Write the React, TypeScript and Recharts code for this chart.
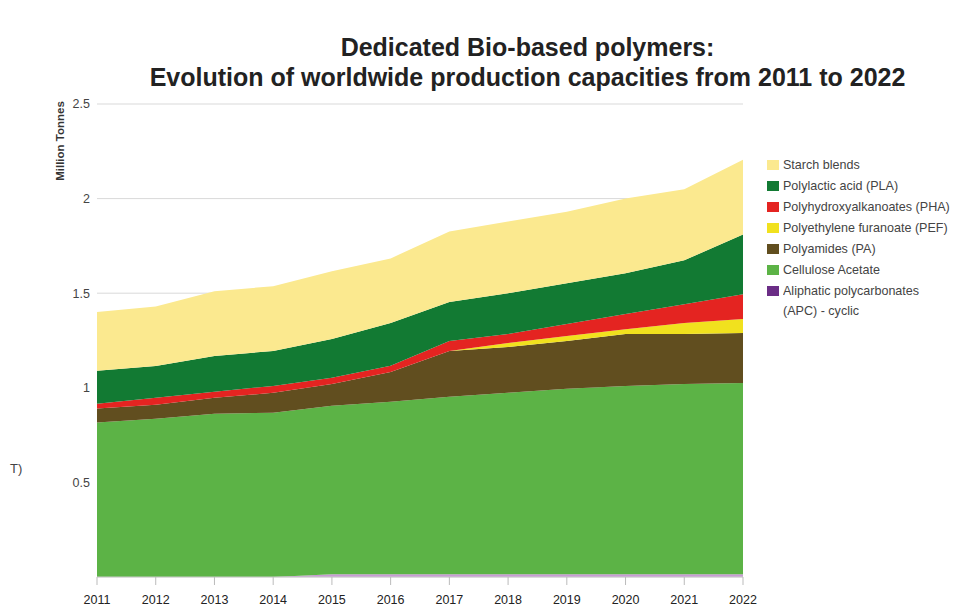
import React from 'react';
import { AreaChart, Area, XAxis, YAxis, CartesianGrid } from 'recharts';

const years = ['2011', '2012', '2013', '2014', '2015', '2016', '2017', '2018', '2019', '2020', '2021', '2022'];

// million tonnes per polymer (stacked bottom to top)
const apc = [0, 0, 0, 0, 0.015, 0.015, 0.015, 0.015, 0.015, 0.015, 0.015, 0.015];
const cellulose = [0.816, 0.837, 0.863, 0.868, 0.89, 0.911, 0.938, 0.959, 0.98, 0.995, 1.005, 1.011];
const pa = [0.074, 0.073, 0.084, 0.106, 0.115, 0.158, 0.242, 0.242, 0.252, 0.274, 0.264, 0.264];
const pef = [0, 0, 0, 0, 0, 0, 0, 0.021, 0.027, 0.026, 0.058, 0.073];
const pha = [0.026, 0.037, 0.032, 0.036, 0.033, 0.032, 0.052, 0.047, 0.063, 0.08, 0.1, 0.132];
const pla = [0.174, 0.168, 0.189, 0.185, 0.205, 0.226, 0.206, 0.216, 0.216, 0.215, 0.232, 0.315];
const starch = [0.31, 0.315, 0.342, 0.342, 0.358, 0.342, 0.373, 0.379, 0.377, 0.395, 0.376, 0.395];

const yTicks = [0.5, 1, 1.5, 2, 2.5];

const series = [
  { key: 'apc', name: 'Aliphatic polycarbonates\n(APC) - cyclic', color: '#c79bd3', legendColor: '#6b2d86', values: apc },
  { key: 'ca', name: 'Cellulose Acetate', color: '#5cb346', legendColor: '#5cb346', values: cellulose },
  { key: 'pa', name: 'Polyamides (PA)', color: '#614e1f', legendColor: '#614e1f', values: pa },
  { key: 'pef', name: 'Polyethylene furanoate (PEF)', color: '#f1e11e', legendColor: '#f1e11e', values: pef },
  { key: 'pha', name: 'Polyhydroxyalkanoates (PHA)', color: '#e42421', legendColor: '#e42421', values: pha },
  { key: 'pla', name: 'Polylactic acid (PLA)', color: '#127a33', legendColor: '#127a33', values: pla },
  { key: 'starch', name: 'Starch blends', color: '#fbe98f', legendColor: '#fbe98f', values: starch },
];

const data = years.map((year, i) => {
  const row: Record<string, string | number> = { year };
  series.forEach((s) => {
    row[s.key] = s.values[i];
  });
  return row;
});

const narrow = '"Liberation Sans Narrow", "Liberation Sans", Arial, sans-serif';
const tickStyle = { fontFamily: narrow, fontSize: 12.5 };

function LegendBox() {
  const items = [...series].reverse();
  return (
    <div style={{ fontFamily: narrow, fontSize: 13.5, color: '#444' }}>
      {items.map((s) => (
        <div key={s.key} style={{ display: 'flex', alignItems: 'flex-start' }}>
          <span
            style={{
              display: 'inline-block',
              width: 12,
              height: 10,
              marginTop: 5,
              marginRight: 4,
              background: s.legendColor,
              flexShrink: 0,
            }}
          />
          <span
            style={{
              display: 'inline-block',
              whiteSpace: 'pre',
              lineHeight: '20px',
              marginBottom: 1,
              transform: 'scaleX(0.93)',
              transformOrigin: 'left center',
            }}
          >
            {s.name}
          </span>
        </div>
      ))}
    </div>
  );
}

export default function App() {
  return (
    <div style={{ position: 'absolute', left: 0, top: 0, width: 955, height: 610, background: '#fff', overflow: 'hidden' }}>
      <div
        style={{
          position: 'absolute',
          left: 0,
          width: 1055,
          top: 32,
          textAlign: 'center',
          fontFamily: '"Liberation Sans", Arial, sans-serif',
          fontWeight: 'bold',
          fontSize: 25,
          lineHeight: '30px',
          color: '#222',
        }}
      >
        <div>Dedicated Bio-based polymers:</div>
        <div>Evolution of worldwide production capacities from 2011 to 2022</div>
      </div>
      <div
        style={{
          position: 'absolute',
          left: 60,
          top: 141,
          transform: 'translate(-50%, -50%) rotate(-90deg)',
          fontFamily: narrow,
          fontWeight: 'bold',
          fontSize: 11.5,
          color: '#333',
          whiteSpace: 'nowrap',
        }}
      >
        Million Tonnes
      </div>
      <div style={{ position: 'absolute', left: 10, top: 461, fontFamily: narrow, fontSize: 13, color: '#444' }}>T)</div>
      <div style={{ position: 'absolute', left: 767, top: 155 }}>
        <LegendBox />
      </div>
      <AreaChart width={955} height={610} data={data} margin={{ top: 104, right: 212, bottom: 0, left: 0 }}>
        <CartesianGrid horizontal vertical={false} stroke="#d9d9d9" />
        <XAxis
          dataKey="year"
          height={33}
          tickSize={8}
          tickMargin={10}
          axisLine={{ stroke: '#cccccc' }}
          tickLine={{ stroke: '#bbbbbb' }}
          tick={{ ...tickStyle, fill: '#222' }}
          interval={0}
        />
        <YAxis
          width={97}
          domain={[0, 2.5]}
          ticks={yTicks}
          axisLine={false}
          tickLine={false}
          tickMargin={1}
          tick={{ ...tickStyle, fill: '#444' }}
        />
        {series.map((s) => (
          <Area
            key={s.key}
            type="linear"
            dataKey={s.key}
            name={s.name}
            stackId="1"
            stroke="none"
            fill={s.color}
            fillOpacity={1}
            isAnimationActive={false}
          />
        ))}
      </AreaChart>
    </div>
  );
}
